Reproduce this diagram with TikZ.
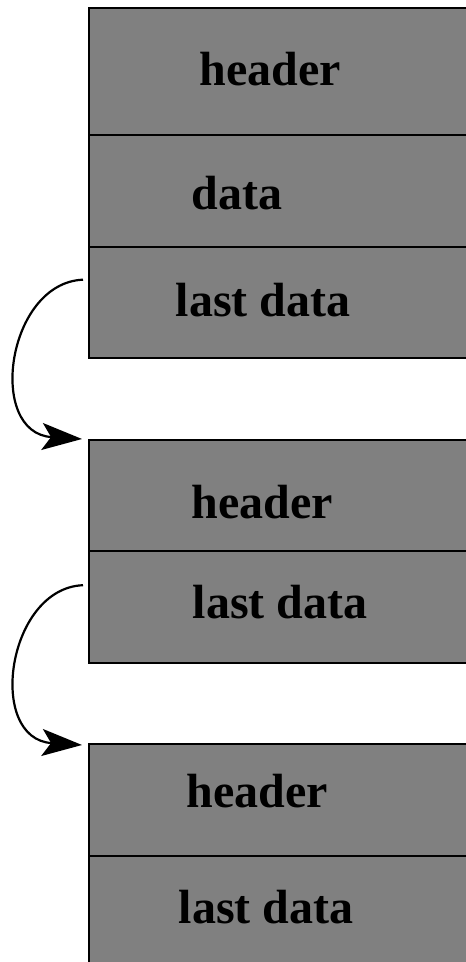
\documentclass[tikz,border=0pt]{standalone}
\usepackage{fontspec}
\setmainfont{Liberation Serif}
\usepackage{tikz}
\usetikzlibrary{arrows.meta,positioning}

\begin{document}
\begin{tikzpicture}[
    x=1pt, y=1pt,
    cell/.style={rectangle, draw=black, fill=gray, line width=2.4pt, minimum width=392pt, inner sep=0pt, anchor=north west},
    lbl/.style={anchor=base, inner sep=0pt, font=\fontsize{48}{58}\selectfont\bfseries},
    link/.style={line width=2.2pt, -{Stealth[length=40pt,width=27pt,inset=9pt]}}
]
\useasboundingbox (0,0) rectangle (466,962);

% first block
\node (head1) [cell, minimum height=127pt] at (88,955) {};
\node (data1) [cell, minimum height=112pt] at (88,828) {};
\node (last1) [cell, minimum height=111pt] at (88,716) {};
\node (thead1) [lbl] at (270,876) {header};
\node (tdata1) [lbl] at (237,752) {data};
\node (tlast1) [lbl] at (263,645) {last data};

% second block
\node (head2) [cell, minimum height=111pt] at (88,523) {};
\node (last2) [cell, minimum height=112pt] at (88,412) {};
\node (thead2) [lbl] at (262,443) {header};
\node (tlast2) [lbl] at (280,343) {last data};

% third block
\node (head3) [cell, minimum height=112pt] at (88,219) {};
\node (last3) [cell, minimum height=120pt] at (88,107) {};
\node (thead3) [lbl] at (257,154) {header};
\node (tlast3) [lbl] at (266,38) {last data};

\draw [link] ([xshift=-5pt,yshift=23pt]last1.west) .. controls +(-76,-3) and +(-96,6) .. ([xshift=-6pt]head2.north west);
\draw [link] ([xshift=-5pt,yshift=22pt]last2.west) .. controls +(-76,-3) and +(-96,6) .. ([xshift=-6pt,yshift=-2pt]head3.north west);

\end{tikzpicture}
\end{document}
